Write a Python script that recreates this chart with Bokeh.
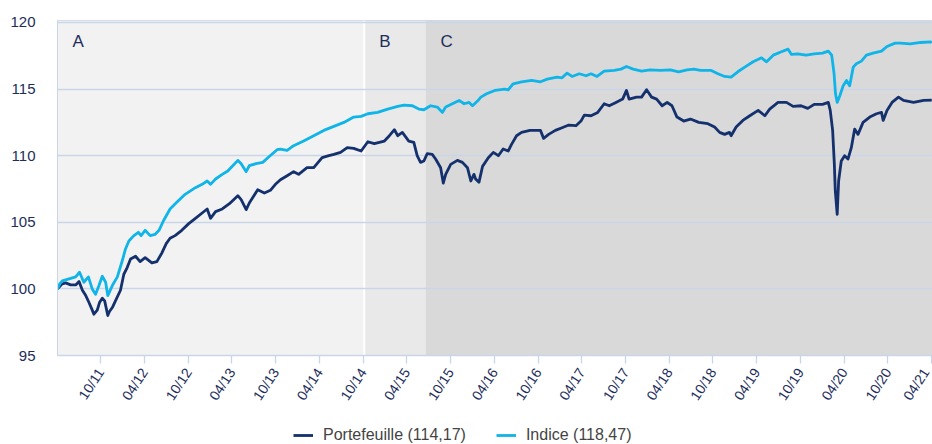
import pandas as pd
from bokeh.plotting import figure
from bokeh.layouts import column
from bokeh.models import (Range1d, FixedTicker, DatetimeTickFormatter, BoxAnnotation,
                          Span, Label, Legend, LegendItem)
from bokeh.embed import file_html
from bokeh.resources import INLINE

# ---------------- data ----------------
port_dates = [
    "2011-04-04", "2011-04-14", "2011-04-21", "2011-05-08", "2011-05-29", "2011-06-19", "2011-07-03",
    "2011-07-17", "2011-07-31", "2011-08-13", "2011-08-25", "2011-09-03", "2011-09-17", "2011-09-27",
    "2011-10-08", "2011-10-18", "2011-10-31", "2011-11-07", "2011-11-19", "2011-12-02", "2011-12-23",
    "2012-01-06", "2012-01-20", "2012-02-03", "2012-02-24", "2012-03-14", "2012-04-04", "2012-05-02",
    "2012-05-23", "2012-06-13", "2012-07-01", "2012-07-17", "2012-08-07", "2012-09-04", "2012-10-03",
    "2012-10-31", "2012-11-28", "2012-12-19", "2013-01-02", "2013-01-23", "2013-02-20", "2013-03-22",
    "2013-04-26", "2013-05-10", "2013-05-31", "2013-06-13", "2013-07-18", "2013-08-15", "2013-09-09",
    "2013-09-30", "2013-10-21", "2013-11-18", "2013-12-15", "2014-01-05", "2014-02-09", "2014-03-09",
    "2014-04-13", "2014-05-11", "2014-06-01", "2014-06-29", "2014-07-27", "2014-08-23", "2014-09-23",
    "2014-10-21", "2014-11-17", "2014-12-29", "2015-01-19", "2015-02-09", "2015-02-23", "2015-03-14",
    "2015-04-10", "2015-05-01", "2015-05-15", "2015-05-29", "2015-06-12", "2015-06-26", "2015-07-17",
    "2015-07-31", "2015-08-21", "2015-09-01", "2015-09-11", "2015-10-02", "2015-10-30", "2015-11-20",
    "2015-12-11", "2015-12-25", "2016-01-07", "2016-01-14", "2016-01-28", "2016-02-12", "2016-03-07",
    "2016-03-28", "2016-04-18", "2016-05-08", "2016-05-29", "2016-06-12", "2016-07-03", "2016-07-24",
    "2016-08-28", "2016-09-27", "2016-10-11", "2016-10-24", "2016-11-14", "2016-12-12", "2017-01-09",
    "2017-02-06", "2017-03-08", "2017-03-29", "2017-04-12", "2017-05-10", "2017-06-07", "2017-07-04",
    "2017-07-25", "2017-08-22", "2017-09-19", "2017-10-05", "2017-10-16", "2017-11-16", "2017-12-07",
    "2017-12-28", "2018-01-18", "2018-02-08", "2018-03-03", "2018-03-24", "2018-04-13", "2018-05-04",
    "2018-06-01", "2018-06-29", "2018-08-03", "2018-09-10", "2018-10-08", "2018-10-29", "2018-11-19",
    "2018-12-09", "2018-12-16", "2019-01-06", "2019-02-03", "2019-03-04", "2019-04-08", "2019-05-06",
    "2019-05-26", "2019-06-30", "2019-08-04", "2019-09-01", "2019-10-04", "2019-11-01", "2019-11-28",
    "2020-01-02", "2020-01-26", "2020-02-03", "2020-02-13", "2020-02-20", "2020-02-24", "2020-03-03",
    "2020-03-09", "2020-03-20", "2020-04-03", "2020-04-17", "2020-05-01", "2020-05-15", "2020-05-29",
    "2020-06-19", "2020-07-17", "2020-08-14", "2020-09-04", "2020-09-11", "2020-09-27", "2020-10-18",
    "2020-11-14", "2020-12-05", "2021-01-16", "2021-02-27", "2021-04-02",
]
port_values = [
    100.0, 100.2, 100.35, 100.45, 100.3, 100.3, 100.55,
    99.9, 99.5, 99.0, 98.5, 98.1, 98.4, 99.0,
    99.3, 99.1, 98.0, 98.3, 98.6, 99.1, 99.9,
    101.1, 101.6, 102.25, 102.45, 102.05, 102.35, 101.95,
    102.05, 102.7, 103.4, 103.8, 104.0, 104.4, 104.9,
    105.3, 105.7, 106.0, 105.3, 105.8, 106.0, 106.4,
    107.0, 106.7, 105.95, 106.45, 107.45, 107.2, 107.4,
    107.85, 108.2, 108.5, 108.8, 108.6, 109.1, 109.1,
    109.85, 110.0, 110.1, 110.25, 110.6, 110.55, 110.35,
    111.05, 110.9, 111.1, 111.5, 111.95, 111.5, 111.75,
    111.1, 111.0, 110.0, 109.5, 109.6, 110.15, 110.1,
    109.75, 109.1, 107.95, 108.6, 109.35, 109.65, 109.5,
    109.1, 108.1, 108.6, 108.25, 108.0, 109.2, 109.85,
    110.25, 110.0, 110.5, 110.35, 110.85, 111.5, 111.75,
    111.9, 111.9, 111.9, 111.3, 111.6, 111.9, 112.1,
    112.3, 112.25, 112.6, 113.05, 113.0, 113.25, 113.9,
    113.75, 114.0, 114.25, 114.9, 114.25, 114.4, 114.4,
    114.95, 114.4, 114.25, 113.75, 114.0, 113.75, 112.9,
    112.6, 112.75, 112.5, 112.4, 112.15, 111.75, 111.6,
    111.75, 111.5, 112.15, 112.65, 113.0, 113.4, 113.0,
    113.5, 114.0, 114.0, 113.7, 113.75, 113.55, 113.85,
    113.85, 114.0, 113.4, 111.9, 109.4, 107.4, 105.6,
    108.1, 109.6, 110.0, 109.75, 110.6, 112.0, 111.6,
    112.5, 112.9, 113.15, 113.25, 112.65, 113.4, 114.0,
    114.4, 114.15, 114.0, 114.15, 114.17,
]

index_dates = [
    "2011-04-04", "2011-04-14", "2011-04-24", "2011-05-22", "2011-06-19", "2011-07-05", "2011-07-23",
    "2011-08-11", "2011-08-27", "2011-09-10", "2011-09-23", "2011-10-08", "2011-10-22", "2011-10-31",
    "2011-11-19", "2011-12-10", "2011-12-31", "2012-01-13", "2012-01-27", "2012-02-17", "2012-03-07",
    "2012-03-18", "2012-04-04", "2012-04-25", "2012-05-16", "2012-06-01", "2012-06-19", "2012-07-17",
    "2012-08-14", "2012-09-18", "2012-10-31", "2012-11-28", "2012-12-19", "2013-01-02", "2013-01-23",
    "2013-02-20", "2013-03-15", "2013-04-05", "2013-04-26", "2013-05-10", "2013-05-31", "2013-06-13",
    "2013-07-11", "2013-08-08", "2013-09-02", "2013-10-07", "2013-10-21", "2013-11-18", "2013-12-15",
    "2014-01-26", "2014-03-09", "2014-04-20", "2014-06-01", "2014-07-13", "2014-08-23", "2014-09-23",
    "2014-10-21", "2014-12-01", "2015-01-12", "2015-02-23", "2015-03-21", "2015-04-25", "2015-05-22",
    "2015-06-12", "2015-07-10", "2015-08-07", "2015-08-28", "2015-09-11", "2015-10-09", "2015-11-06",
    "2015-11-27", "2015-12-18", "2016-01-01", "2016-01-22", "2016-02-05", "2016-02-29", "2016-04-03",
    "2016-05-15", "2016-05-29", "2016-06-19", "2016-07-24", "2016-09-04", "2016-10-11", "2016-11-08",
    "2016-12-19", "2017-01-09", "2017-01-30", "2017-02-20", "2017-03-22", "2017-04-19", "2017-05-10",
    "2017-06-04", "2017-07-04", "2017-08-15", "2017-09-12", "2017-10-05", "2017-11-02", "2017-12-07",
    "2018-01-11", "2018-02-23", "2018-04-06", "2018-05-11", "2018-06-15", "2018-07-13", "2018-08-10",
    "2018-09-24", "2018-10-22", "2018-11-19", "2018-12-16", "2019-01-13", "2019-02-11", "2019-03-18",
    "2019-04-22", "2019-05-13", "2019-06-10", "2019-07-14", "2019-08-11", "2019-08-25", "2019-09-20",
    "2019-10-25", "2019-11-28", "2020-01-02", "2020-01-26", "2020-02-09", "2020-02-19", "2020-02-25",
    "2020-03-03", "2020-03-14", "2020-03-28", "2020-04-11", "2020-04-24", "2020-05-09", "2020-05-22",
    "2020-06-12", "2020-07-03", "2020-07-31", "2020-09-04", "2020-09-27", "2020-10-31", "2020-11-21",
    "2021-01-02", "2021-02-15", "2021-03-29", "2021-04-02",
]
index_values = [
    100.0, 100.4, 100.6, 100.75, 100.9, 101.25, 100.5,
    100.9, 100.0, 99.6, 100.2, 100.95, 100.5, 99.5,
    100.25, 100.9, 102.15, 103.0, 103.6, 104.0, 104.25,
    104.0, 104.4, 104.0, 104.1, 104.4, 105.1, 106.0,
    106.5, 107.1, 107.6, 107.85, 108.1, 107.85, 108.25,
    108.6, 108.85, 109.25, 109.65, 109.4, 108.8, 109.25,
    109.4, 109.5, 109.9, 110.45, 110.5, 110.4, 110.75,
    111.1, 111.5, 111.9, 112.2, 112.5, 112.9, 112.95,
    113.15, 113.25, 113.5, 113.7, 113.8, 113.75, 113.5,
    113.45, 113.75, 113.65, 113.25, 113.65, 113.9, 114.15,
    113.9, 114.0, 113.75, 114.1, 114.4, 114.65, 114.9,
    115.0, 114.95, 115.4, 115.55, 115.65, 115.55, 115.75,
    115.9, 115.85, 116.2, 115.95, 116.15, 116.0, 116.15,
    115.95, 116.35, 116.4, 116.5, 116.7, 116.5, 116.35,
    116.45, 116.4, 116.45, 116.3, 116.45, 116.5, 116.4,
    116.4, 116.15, 115.95, 115.9, 116.3, 116.65, 117.05,
    117.35, 117.05, 117.55, 117.8, 118.0, 117.6, 117.65,
    117.55, 117.65, 117.7, 117.85, 117.55, 116.15, 114.65,
    114.0, 114.5, 115.25, 115.65, 115.25, 116.65, 116.9,
    117.1, 117.55, 117.7, 117.85, 118.2, 118.45, 118.45,
    118.4, 118.5, 118.55, 118.47,
]

series_labels = ["Portefeuille (114,17)", "Indice (118,47)"]

tick_dates = [
    "2011-10-01", "2012-04-01", "2012-10-01", "2013-04-01", "2013-10-01", "2014-04-01",
    "2014-10-01", "2015-04-01", "2015-10-01", "2016-04-01", "2016-10-01", "2017-04-01",
    "2017-10-01", "2018-04-01", "2018-10-01", "2019-04-01", "2019-10-01", "2020-04-01",
    "2020-10-01", "2021-04-01",
]
tick_labels = ["10/11", "04/12", "10/12", "04/13", "10/13", "04/14", "10/14", "04/15", "10/15",
               "04/16", "10/16", "04/17", "10/17", "04/18", "10/18", "04/19", "10/19", "04/20",
               "10/20", "04/21"]
y_ticks = [95, 100, 105, 110, 115, 120]

region_labels = ["A", "B", "C"]
region_starts = ["2011-04-04", "2014-10-06", "2015-06-19"]
region_ends = ["2014-10-06", "2015-06-19", "2021-04-05"]

# ---------------- styling ----------------
NAVY = "#14306d"
CYAN = "#0fb4e8"
GRID = "#c9d6e8"
LABEL = "#1d2d5c"
FONT = "Liberation Sans"
NAN = float("nan")


def ms(s):
    return pd.Timestamp(s).value // 10**6


p = figure(width=932, height=423, x_axis_type="datetime",
           x_range=Range1d(ms(region_starts[0]), ms(region_ends[-1])),
           y_range=Range1d(95, 120.15),
           output_backend="svg", toolbar_location=None,
           min_border_left=57, min_border_right=0, min_border_top=20, min_border_bottom=68,
           background_fill_color="white", border_fill_color="white",
           outline_line_color=GRID, outline_line_width=1)

band_colors = ["#f2f2f2", "#e9e9e9", "#d9d9d9"]
for s, e, c in zip(region_starts, region_ends, band_colors):
    p.add_layout(BoxAnnotation(left=ms(s), right=ms(e), fill_color=c, fill_alpha=1,
                               line_alpha=0, level="image"))
p.add_layout(Span(location=ms(region_starts[1]), dimension="height", line_color="white",
                  line_width=2, level="image"))

for lab, s in zip(region_labels, region_starts):
    p.add_layout(Label(x=ms(s), y=118.55, x_offset=15, text=lab, text_font=FONT,
                       text_font_size="17px", text_color=LABEL, text_baseline="middle"))

p.xgrid.visible = False
p.ygrid.grid_line_color = GRID
p.ygrid.grid_line_width = 1.3

p.yaxis.ticker = FixedTicker(ticks=y_ticks)
p.yaxis.axis_line_color = GRID
p.yaxis.major_tick_out = 0
p.yaxis.major_tick_in = 0
p.yaxis.minor_tick_line_color = None
p.yaxis.major_label_standoff = 22
p.yaxis.major_label_text_font = FONT
p.yaxis.major_label_text_font_size = "15px"
p.yaxis.major_label_text_color = LABEL

p.xaxis.ticker = FixedTicker(ticks=[ms(d) for d in tick_dates])
fmt = "%m/%y"
p.xaxis.formatter = DatetimeTickFormatter(days=fmt, months=fmt, years=fmt, hours=fmt,
                                          minutes=fmt, seconds=fmt, milliseconds=fmt)
p.xaxis.axis_line_color = GRID
p.xaxis.axis_line_width = 1.3
p.xaxis.major_tick_line_color = GRID
p.xaxis.major_tick_line_width = 1.3
p.xaxis.major_tick_out = 8
p.xaxis.major_tick_in = 0
p.xaxis.minor_tick_line_color = None
p.xaxis.major_label_orientation = 0.99
p.xaxis.major_label_standoff = 6
p.xaxis.major_label_text_font = FONT
p.xaxis.major_label_text_font_size = "14px"
p.xaxis.major_label_text_color = LABEL

p.line(pd.to_datetime(port_dates), port_values, line_color=NAVY, line_width=2.8,
       line_join="round")
p.line(pd.to_datetime(index_dates), index_values, line_color=CYAN, line_width=2.8,
       line_join="round")

# ---------------- legend strip ----------------
lg = figure(width=932, height=21, x_range=Range1d(0, 1), y_range=Range1d(0, 1),
            output_backend="svg", toolbar_location=None, min_border=0,
            outline_line_color=None, background_fill_color="white", border_fill_color="white")
lg.axis.visible = False
lg.grid.visible = False
k1 = lg.line([NAN, NAN], [NAN, NAN], line_color=NAVY, line_width=2.8)
k2 = lg.line([NAN, NAN], [NAN, NAN], line_color=CYAN, line_width=2.8)
legend = Legend(items=[LegendItem(label=series_labels[0], renderers=[k1]),
                       LegendItem(label=series_labels[1], renderers=[k2])],
                location=(236, 0), orientation="horizontal",
                label_text_font=FONT, label_text_font_size="16px", label_text_color="#444444",
                glyph_width=20, glyph_height=16, label_height=16, label_standoff=10,
                spacing=30, padding=0, margin=0, border_line_alpha=0,
                background_fill_alpha=0)
lg.add_layout(legend)

open("out.html", "w").write(file_html(column(p, lg, spacing=0), INLINE))
